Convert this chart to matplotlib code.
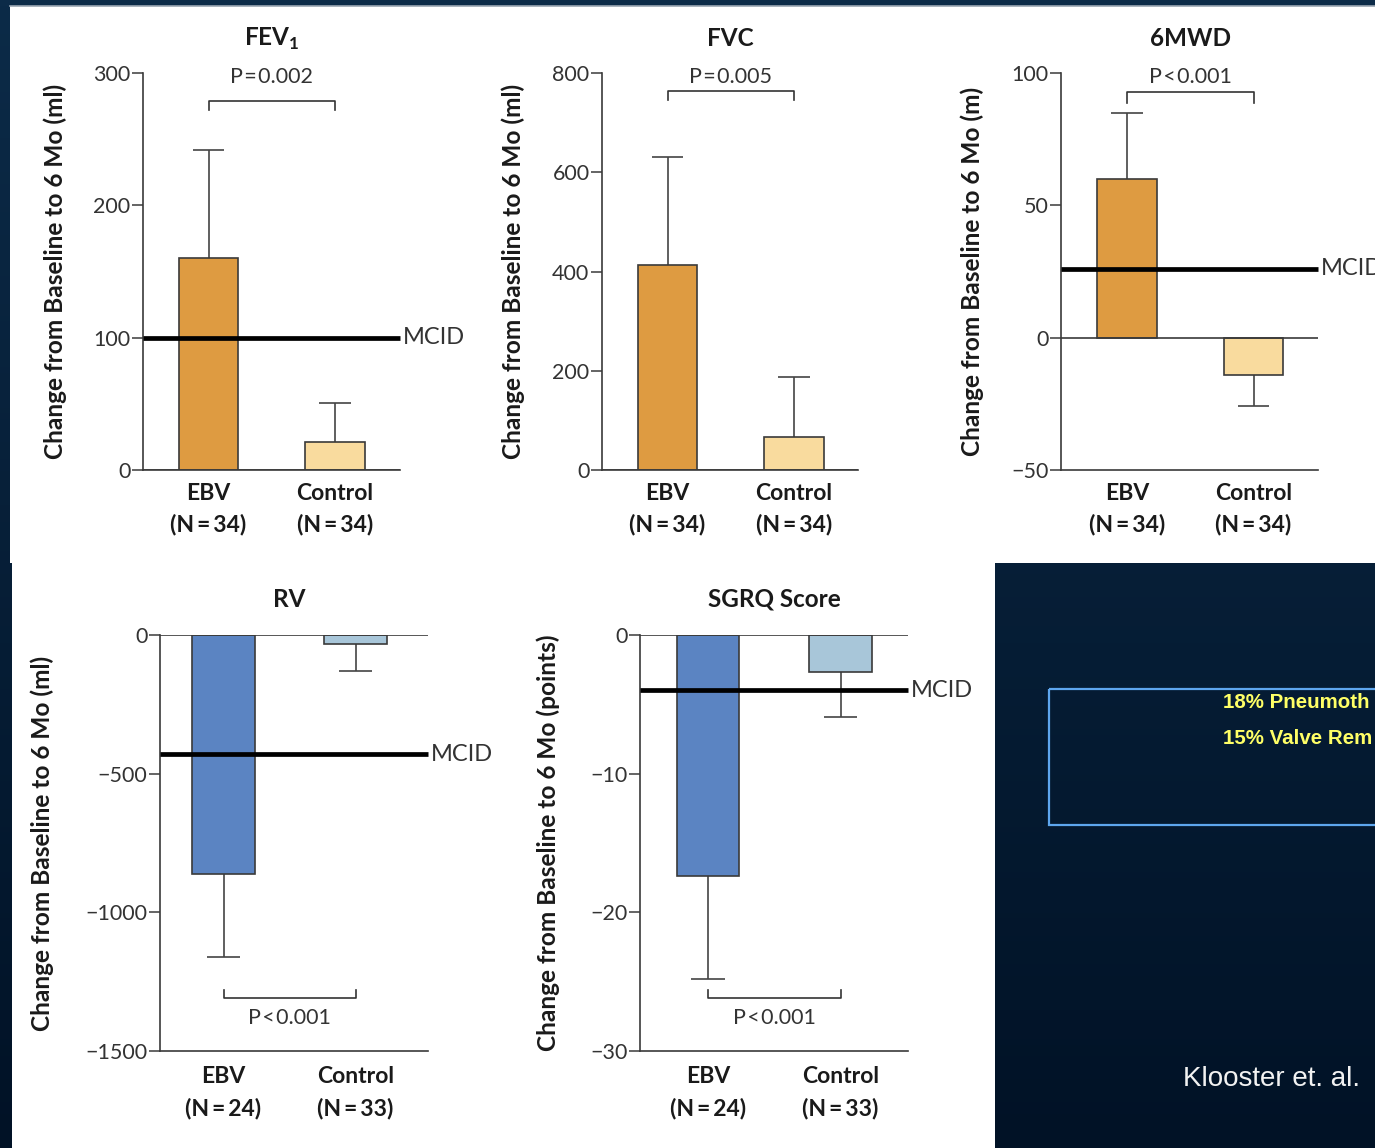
import matplotlib
matplotlib.use("Agg")
import matplotlib.pyplot as plt
import matplotlib.transforms as mtransforms
from matplotlib.patches import Rectangle
import numpy as np

plt.rcParams['font.family'] = ['Lato', 'DejaVu Sans']
plt.rcParams['mathtext.fontset'] = 'custom'
plt.rcParams['mathtext.rm'] = 'Lato'
plt.rcParams['mathtext.bf'] = 'Lato:bold'

# ---------------- data ----------------
groups = ["EBV", "Control"]
n_top = [34, 34]
n_bottom = [24, 33]

fev1_mean = [160, 21]
fev1_sd = [82, 30]

fvc_mean = [413, 66]
fvc_sd = [218, 121]

mwd_mean = [60, -14]
mwd_sd = [25, 12]

rv_mean = [-863, -32]
rv_sd = [299, 98]

sgrq_mean = [-17.4, -2.7]
sgrq_sd = [7.4, 3.2]

mcid = {"FEV1": 100, "6MWD": 26, "RV": -430, "SGRQ": -4}
p_values = {"FEV1": "P\u200a=\u200a0.002", "FVC": "P\u200a=\u200a0.005",
            "6MWD": "P\u200a<\u200a0.001", "RV": "P\u200a<\u200a0.001",
            "SGRQ": "P\u200a<\u200a0.001"}

# ---------------- figure ----------------
W, H = 1375, 1148
fig = plt.figure(figsize=(W / 100, H / 100), dpi=100)

# slide background
bg = fig.add_axes([0, 0, 1, 1])
bg.set_xlim(0, W)
bg.set_ylim(H, 0)
bg.axis("off")
top_c = np.array([0x0c, 0x2b, 0x48]) / 255
bot_c = np.array([0x01, 0x12, 0x26]) / 255
t = np.linspace(0, 1, 200)[:, None, None]
grad = top_c * (1 - t) + bot_c * t
grad = np.repeat(grad, 4, axis=1)
bg.imshow(grad, extent=[0, W, H, 0], aspect="auto", zorder=0)

# white figure panels
bg.add_patch(Rectangle((10, 6), W - 10, 557, facecolor="white", edgecolor="none", zorder=1))
bg.plot([10, W], [6, 6], color="#9aa6b2", lw=1.2, zorder=2)
bg.add_patch(Rectangle((12, 562), 995 - 12, H - 562, facecolor="white", edgecolor="none", zorder=1))

# adverse events box
bg.add_patch(Rectangle((1049, 689), 400, 136, facecolor="none", edgecolor="#5ea6ee", lw=1.6, zorder=2))
bg.text(1223, 702, "18% Pneumoth", color="#ffff66", fontsize=14.8, fontweight="bold",
        family="Liberation Sans", va="center", ha="left", zorder=3)
bg.text(1223, 739, "15% Valve Rem", color="#ffff66", fontsize=14.8, fontweight="bold",
        family="Liberation Sans", va="center", ha="left", zorder=3)
bg.text(1183, 1079, "Klooster et. al.", color="#f2f2f2", fontsize=20,
        family="Liberation Sans", va="center", ha="left", zorder=3)

TXT = "#333333"
EDGE = "#3a3a3a"
ORANGE = ["#de9b41", "#f9db9e"]
BLUE = ["#5b84c2", "#a8c6d9"]


def add_axes_px(l, t, r, b):
    return fig.add_axes([l / W, 1 - b / H, (r - l) / W, (b - t) / H])


def draw_panel(box, title, means, sds, ns, ylim, yticks, colors, pval,
               unit, ylabel_x, mcid_val=None, bracket=None, xscale=126.5,
               first_center=None, xpad=9):
    l, t, r, b = box
    ax = add_axes_px(l, t, r, b)
    ax.set_facecolor("none")
    c0 = first_center
    ax.set_xlim(-(c0 - l) / xscale, (r - c0) / xscale)
    ax.set_ylim(*ylim)
    x = np.arange(len(means))

    # error bars (one-sided, away from zero)
    for xi, m, s in zip(x, means, sds):
        end = m + s if m >= 0 else m - s
        ax.plot([xi, xi], [m, end], color="#444444", lw=1.2, zorder=2,
                solid_capstyle="butt")
        ax.plot([xi - 0.125, xi + 0.125], [end, end], color="#444444", lw=1.2,
                zorder=2, solid_capstyle="butt")

    ax.bar(x, means, width=0.47, color=colors, edgecolor=EDGE, linewidth=1.2, zorder=3)
    ax.axhline(0, color=EDGE, lw=1.2, zorder=4)

    for side in ("top", "right"):
        ax.spines[side].set_visible(False)
    for side in ("left", "bottom"):
        ax.spines[side].set_color(EDGE)
        ax.spines[side].set_linewidth(1.2)

    ax.set_yticks(yticks)
    ax.set_yticklabels(["\u2212" + str(abs(v)) if v < 0 else str(v) for v in yticks])
    ax.tick_params(axis="y", direction="out", length=8, width=1.1, colors=EDGE,
                   labelcolor=TXT, labelsize=15.5, pad=1)
    ax.set_xticks(x)
    ax.set_xticklabels([f"{g}\n(N\u2009=\u2009{n})" for g, n in zip(groups, ns)],
                       fontsize=16.5, fontweight="bold", color="#1a1a1a", linespacing=1.58)
    ax.tick_params(axis="x", length=0, pad=xpad)

    tr = mtransforms.blended_transform_factory(ax.transData, ax.transAxes)
    ax.text(0.5, 1.086, title, transform=tr, ha="center", va="center",
            fontsize=17.5, fontweight="bold", color="#1a1a1a")

    if mcid_val is not None:
        xl = ax.get_xlim()
        ax.plot(xl, [mcid_val, mcid_val], color="black", lw=3.4, zorder=5,
                solid_capstyle="butt", clip_on=False)
        ax.annotate("MCID", xy=(xl[1], mcid_val), xytext=(2, 0),
                    textcoords="offset points", ha="left", va="center",
                    fontsize=17, color=TXT, annotation_clip=False)

    yb, yt, yp = bracket
    ax.plot([0, 0, 1, 1], [yt, yb, yb, yt], transform=tr, color="#333333",
            lw=1.2, clip_on=False)
    ax.text(0.5, yp, pval, transform=tr, ha="center", va="center",
            fontsize=15.5, color=TXT)

    cy = (t + b) / 2
    bg.text(ylabel_x, cy, f"Change from Baseline to 6 Mo ({unit})", rotation=90,
            ha="center", va="center", fontsize=17.6, fontweight="bold",
            color="#1a1a1a", zorder=3)
    return ax


draw_panel((143, 73, 400, 470), r"FEV$_\mathbf{1}$", fev1_mean, fev1_sd, n_top,
           (0, 300), [0, 100, 200, 300], ORANGE, p_values["FEV1"], "ml", 55,
           mcid_val=mcid["FEV1"], bracket=(0.929, 0.907, 0.99),
           first_center=208.5)
draw_panel((602, 73, 858, 470), "FVC", fvc_mean, fvc_sd, n_top,
           (0, 800), [0, 200, 400, 600, 800], ORANGE, p_values["FVC"], "ml", 513,
           bracket=(0.955, 0.932, 0.99), first_center=667.5)
draw_panel((1061, 73, 1318, 470), "6MWD", mwd_mean, mwd_sd, n_top,
           (-50, 100), [-50, 0, 50, 100], ORANGE, p_values["6MWD"], "m", 972,
           mcid_val=mcid["6MWD"], bracket=(0.952, 0.924, 0.99),
           first_center=1127)
draw_panel((160, 635, 428, 1051), "RV", rv_mean, rv_sd, n_bottom,
           (-1500, 0), [-1500, -1000, -500, 0], BLUE, p_values["RV"], "ml", 42,
           mcid_val=mcid["RV"], bracket=(0.127, 0.147, 0.079),
           xscale=132, first_center=223.5, xpad=11)
draw_panel((640, 635, 908, 1051), "SGRQ Score", sgrq_mean, sgrq_sd, n_bottom,
           (-30, 0), [-30, -20, -10, 0], BLUE, p_values["SGRQ"], "points", 548,
           mcid_val=mcid["SGRQ"], bracket=(0.127, 0.147, 0.079),
           xscale=132.5, first_center=708, xpad=11)

fig.savefig("out.png", dpi=100)
